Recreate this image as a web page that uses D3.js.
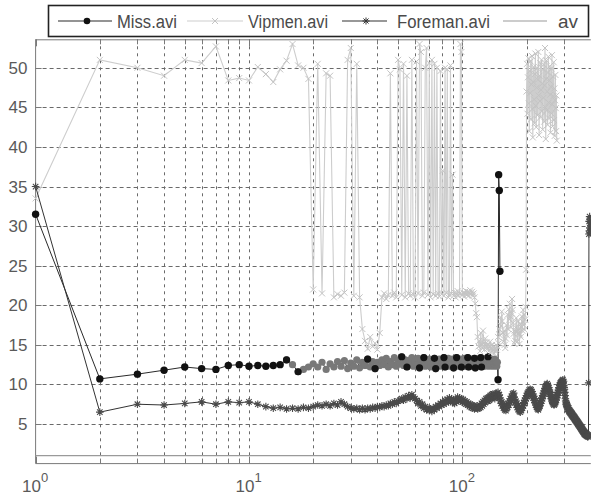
<!DOCTYPE html>
<html><head><meta charset="utf-8">
<script src="https://cdn.jsdelivr.net/npm/d3@7"></script>
<style>body{margin:0;background:#fff}svg{display:block}</style>
</head><body>
<svg id="c" width="591" height="499"></svg>
<script>
// ---------------- data ----------------
const seriesNames = ["Miss.avi", "Vipmen.avi", "Foreman.avi", "av"];
const missPSNR = [
31.5,10.7,11.3,11.8,12.2,12.0,11.9,12.4,12.5,12.3,
12.4,12.3,12.4,12.5,13.1,12.5,11.6,11.9,12.2,12.6,
12.2,12.8,11.9,12.6,12.2,12.9,12.3,13.0,12.0,12.7,
12.3,13.1,12.1,12.8,12.4,13.2,12.2,12.9,12.0,12.8,
12.4,13.1,12.5,13.3,12.2,12.9,12.5,13.4,12.3,13.0,
12.6,13.5,12.4,13.1,12.2,13.0,12.6,13.4,12.3,12.9,
12.5,13.3,12.1,13.0,12.6,13.4,12.3,12.9,12.5,13.2,
12.2,13.1,12.6,13.3,12.0,12.9,12.5,13.2,12.3,13.0,
12.6,13.4,12.2,12.9,12.5,13.3,12.3,13.0,12.6,13.2,
12.1,12.9,12.5,13.4,12.3,13.0,12.6,13.2,12.2,12.9,
12.5,13.3,12.3,13.0,12.6,13.4,12.2,12.9,12.5,13.2,
12.3,13.0,12.6,13.3,12.1,12.9,12.5,13.2,12.3,13.0,
12.6,13.4,12.2,12.9,12.5,13.2,12.3,13.0,12.6,13.3,
12.4,13.5,12.3,13.0,12.6,13.2,12.4,12.9,12.3,13.1,
12.6,13.2,12.4,12.9,12.3,12.8,10.6,36.5,34.5,24.3];
const vipmenPSNR = [
33.5,51.0,50.0,49.0,51.0,50.6,52.7,48.4,48.7,48.4,
50.1,49.2,48.2,49.8,50.9,53.0,50.3,50.0,48.6,22.0,
50.5,21.5,49.3,49.0,21.0,21.4,21.2,21.6,51.0,52.5,
21.2,50.5,21.0,17.0,15.5,14.5,16.0,14.8,15.2,14.4,
16.5,21.0,21.5,20.8,21.3,49.3,21.2,21.6,21.0,51.0,
49.8,21.3,50.5,21.0,49.0,21.5,21.2,51.0,21.4,21.0,
50.8,21.5,53.0,52.0,21.2,21.6,50.0,52.5,21.3,50.6,
21.0,51.0,21.4,50.5,21.2,50.0,21.5,21.1,49.6,21.4,
37.0,21.2,50.0,21.6,49.8,21.0,21.3,50.3,21.5,36.5,
21.2,21.6,21.0,21.4,21.8,21.2,21.5,53.0,52.0,21.3,
21.6,21.1,21.5,21.8,21.3,21.7,21.2,21.6,21.9,21.4,
21.7,21.2,21.5,21.0,20.2,19.0,18.5,16.0,14.8,15.5,
14.2,16.5,15.0,14.6,16.8,15.2,14.4,15.8,14.9,15.3,
14.5,15.0,14.2,14.8,15.4,14.6,14.1,15.0,14.3,14.7,
13.9,14.5,14.2,15.0,14.4,14.8,16.0,15.2,17.0,16.2,
18.5,17.4,19.2,18.0,16.5,15.4,16.8,15.0,14.6,15.8,
17.5,16.2,18.8,17.0,19.5,18.2,20.2,18.6,17.2,19.0,
20.8,19.4,17.8,16.4,15.2,16.8,15.5,17.2,18.4,16.6,
15.4,16.9,18.0,16.5,15.1,16.3,17.6,16.0,17.2,18.6,
16.8,17.9,19.4,17.5,18.8,16.9,18.2,19.8,24.5,47.0,
50.5,44.2,48.8,51.2,45.5,42.0,49.6,46.8,50.8,43.5,
47.9,51.5,44.8,41.2,48.2,50.1,46.0,43.0,49.2,51.8,
45.2,42.5,47.5,50.0,44.0,48.5,52.0,46.5,41.5,49.0,
45.8,50.6,43.8,47.2,51.0,44.5,48.0,42.2,49.8,46.2,
50.4,43.2,47.8,52.5,45.0,41.0,48.6,50.9,44.6,47.0,
42.8,49.4,51.4,45.6,43.6,48.4,50.2,46.6,41.8,47.6,
49.9,44.2,51.6,45.4,42.6,48.9,46.4,50.7,43.4,47.4,
41.4,45.9,49.1,44.9,42.0,46.5,40.8];
const foremanPSNR = [
35.0,6.5,7.5,7.4,7.6,7.8,7.5,7.8,7.7,7.8,
7.5,7.2,7.0,7.1,6.9,7.0,6.9,7.1,7.0,7.2,
7.4,7.3,7.5,7.3,7.6,7.4,7.8,7.5,7.2,7.0,
6.9,7.0,6.8,7.0,6.8,7.0,6.9,7.1,7.0,7.2,
7.1,7.3,7.2,7.4,7.3,7.6,7.5,7.8,7.6,7.9,
8.0,8.2,8.0,8.4,8.2,8.6,8.3,8.7,8.4,8.2,
8.0,7.6,7.8,7.3,7.5,7.0,7.2,6.8,7.0,6.7,
6.9,6.6,7.0,6.8,7.2,7.0,7.4,7.2,7.6,7.4,
7.8,7.5,8.0,7.7,8.1,7.8,8.3,7.9,8.2,7.7,
8.0,7.6,8.1,7.8,8.4,8.0,8.3,7.9,8.2,7.8,
8.1,7.7,7.9,7.5,7.8,7.4,7.6,7.2,7.5,7.1,
7.4,7.0,7.3,6.9,7.2,7.0,7.3,6.9,7.1,7.0,
7.4,7.1,7.6,7.3,7.8,7.5,8.0,7.7,8.2,7.9,
8.3,7.9,8.4,8.0,8.6,8.2,8.7,8.3,8.8,8.4,
8.6,8.2,8.8,8.4,8.9,8.5,9.0,8.6,8.7,8.3,
8.0,7.6,7.8,7.3,7.5,7.0,7.2,6.8,7.0,6.7,
6.9,7.3,7.1,7.6,7.4,7.9,7.7,8.2,8.0,8.5,
8.3,8.8,8.5,8.9,8.4,8.1,7.7,7.9,7.4,7.6,
7.1,7.3,6.8,7.0,6.6,6.8,6.5,6.9,6.7,7.1,
7.0,7.4,7.3,7.7,7.6,8.0,7.9,8.3,8.2,8.6,
8.5,8.9,8.7,9.1,8.9,9.3,9.0,9.4,9.1,9.3,
8.9,9.1,8.6,8.8,8.3,8.5,8.0,8.2,7.7,7.9,
7.4,7.6,7.1,7.3,6.9,7.1,6.8,7.0,7.2,7.4,
7.3,7.7,7.6,8.0,7.9,8.3,8.2,8.6,8.5,8.9,
8.8,9.2,9.1,9.5,9.4,9.8,9.6,10.0,9.8,10.1,
9.7,9.9,9.4,9.6,9.1,9.3,8.8,9.0,8.5,8.7,
8.2,8.4,7.9,8.1,7.7,7.9,7.5,7.7,7.4,7.6,
7.5,7.8,7.7,8.1,8.0,8.4,8.3,8.7,8.6,9.0,
8.9,9.3,9.2,9.6,9.5,9.9,9.8,10.2,10.0,10.3,
10.1,10.4,10.2,10.5,10.3,10.6,10.2,10.4,9.9,9.6,
9.4,9.0,8.6,8.2,7.9,7.5,7.7,7.3,7.5,7.1,
7.3,6.9,7.1,6.8,7.0,6.6,6.8,6.5,6.7,6.4,
6.6,6.3,6.5,6.2,6.4,6.1,6.3,6.0,6.2,5.9,
6.1,5.8,6.0,5.7,5.9,5.6,5.8,5.5,5.7,5.4,
5.6,5.3,5.5,5.2,5.4,5.1,5.3,5.0,5.2,4.9,
5.1,4.8,5.0,4.7,4.9,4.6,4.8,4.5,4.7,4.4,
4.6,4.3,4.5,4.2,4.4,4.1,4.3,4.0,4.2,3.9,
4.1,3.8,4.0,3.7,3.9,3.7,3.9,3.6,3.8,3.6,
3.8,3.5,3.7,3.5,3.7,3.4,3.6,3.4,3.6,3.5,
10.2,29.0,30.6,29.4,31.2,29.8,30.8,29.2,30.4,30.0];
const avFrames = [1, 400];
const avPSNR = [1.0, 1.0];
const yTickValues = [5, 10, 15, 20, 25, 30, 35, 40, 45, 50];
const xMajorTicks = [1, 10, 100];
const xMinorTicks = [2,3,4,5,6,7,8,9,20,30,40,50,60,70,80,90,200,300,400];
const xTickExponents = ["0", "1", "2"];

// ---------------- layout ----------------
const svg = d3.select("#c");
const x = d3.scaleLog().domain([1, 400]).range([35.6, 590.8]);
const y = d3.scaleLinear().domain([0, 53.6]).range([463.6, 39.3]);
const X0 = x.range()[0], X1 = x.range()[1], Y0 = y.range()[0], Y1 = y.range()[1];
const FONT = "'Liberation Sans', Arial, Helvetica, sans-serif";

const toPts = arr => arr.map((v, i) => ({f: i + 1, v}));
const miss = toPts(missPSNR), vip = toPts(vipmenPSNR), fore = toPts(foremanPSNR);
const av = avFrames.map((f, i) => ({f, v: avPSNR[i]}));

svg.append("rect").attr("width", 591).attr("height", 499).attr("fill", "#fff");

// grid
const grid = svg.append("g").attr("stroke", "#6a6a6a").attr("stroke-width", 1).attr("stroke-dasharray", "4,3");
grid.selectAll("line.h").data(yTickValues).join("line").attr("class", "h")
  .attr("x1", X0).attr("x2", X1).attr("y1", d => Math.round(y(d)) + 0.5).attr("y2", d => Math.round(y(d)) + 0.5);
grid.selectAll("line.v").data(xMajorTicks.slice(1).concat(xMinorTicks)).join("line").attr("class", "v")
  .attr("y1", Y1).attr("y2", Y0).attr("x1", d => Math.round(x(d)) + 0.5).attr("x2", d => Math.round(x(d)) + 0.5)
  .attr("stroke-dasharray", "3,4");

// frame
const frame = svg.append("g").attr("stroke", "#7a7a7a").attr("stroke-width", 1).attr("fill", "none");
frame.append("line").attr("x1", X0).attr("x2", X0).attr("y1", Y1).attr("y2", Y0);
frame.append("line").attr("x1", X0).attr("x2", X1).attr("y1", Y1 + 0.5).attr("y2", Y1 + 0.5);
frame.append("line").attr("x1", X0).attr("x2", X1).attr("y1", Y0).attr("y2", Y0);
// ticks
const tk = svg.append("g").attr("stroke", "#7a7a7a").attr("stroke-width", 1);
xMinorTicks.concat(xMajorTicks).forEach(d => {
  const len = xMajorTicks.includes(d) ? 7 : 5;
  const xx = Math.round(x(d)) + 0.5;
  tk.append("line").attr("x1", xx).attr("x2", xx).attr("y1", Y0).attr("y2", Y0 - len);
  tk.append("line").attr("x1", xx).attr("x2", xx).attr("y1", Y1).attr("y2", Y1 + len);
});
yTickValues.forEach(d => {
  const yy = Math.round(y(d)) + 0.5;
  tk.append("line").attr("x1", X0).attr("x2", X0 + 6).attr("y1", yy).attr("y2", yy);
});

// tick labels
svg.append("g").selectAll("text").data(yTickValues).join("text")
  .attr("x", 27.5).attr("y", d => y(d) + 6).attr("text-anchor", "end")
  .attr("font-family", FONT).attr("font-size", 17).attr("fill", "#5a5a5a").text(d => d);
xMajorTicks.forEach((d, i) => {
  const xx = x(d);
  svg.append("text").attr("x", xx - 13.5).attr("y", 492).attr("font-family", FONT)
    .attr("font-size", 17).attr("fill", "#5a5a5a").text("10");
  svg.append("text").attr("x", xx + 5.5).attr("y", 481.5).attr("font-family", FONT)
    .attr("font-size", 13).attr("fill", "#5a5a5a").text(xTickExponents[i]);
});

// series
const line = d3.line().x(d => x(d.f)).y(d => y(d.v));
const starPath = (cx, cy, r) => {
  const k = r * 0.72;
  return `M${cx - r},${cy}H${cx + r}M${cx},${cy - r}V${cy + r}M${cx - k},${cy - k}L${cx + k},${cy + k}M${cx - k},${cy + k}L${cx + k},${cy - k}`;
};
const crossPath = (cx, cy, r) => `M${cx - r},${cy - r}L${cx + r},${cy + r}M${cx - r},${cy + r}L${cx + r},${cy - r}`;

// Miss: dense overlapping markers render grey in the print, local extremes stay black
const isEdge = (arr, i) => {
  const lo = Math.max(0, i - 7);
  const w = arr.slice(lo, i + 8).map(d => d.v);
  return d3.maxIndex(w) === i - lo || d3.minIndex(w) === i - lo;
};
svg.append("path").datum(miss).attr("d", line).attr("fill", "none").attr("stroke", "#2a2a2a").attr("stroke-width", 1);
const missDense = miss.filter(d => d.f >= 15 && d.f <= 146);
const missSparse = miss.filter(d => d.f < 15 || d.f > 146);
svg.append("g").selectAll("circle").data(missDense).join("circle")
  .attr("cx", d => x(d.f)).attr("cy", d => y(d.v)).attr("r", 3.6).attr("fill", "#787878");
svg.append("g").selectAll("circle").data(missDense.filter(d => isEdge(miss, d.f - 1))).join("circle")
  .attr("cx", d => x(d.f)).attr("cy", d => y(d.v)).attr("r", 3.6).attr("fill", "#151515");
svg.append("g").selectAll("circle").data(missSparse).join("circle")
  .attr("cx", d => x(d.f)).attr("cy", d => y(d.v)).attr("r", 3.7).attr("fill", "#111");
// Vipmen
svg.append("path").datum(vip).attr("d", line).attr("fill", "none").attr("stroke", "#cdcdcd").attr("stroke-width", 1.1);
svg.append("g").selectAll("path").data(vip).join("path")
  .attr("d", d => crossPath(x(d.f), y(d.v), 3)).attr("stroke", "#c4c4c4").attr("stroke-width", 1).attr("fill", "none");
// Foreman
svg.append("path").datum(fore).attr("d", line).attr("fill", "none").attr("stroke", "#333").attr("stroke-width", 1);
svg.append("g").selectAll("path").data(fore).join("path")
  .attr("d", d => starPath(x(d.f), y(d.v), 3.8)).attr("stroke", "#4a4a4a").attr("stroke-width", 1.1).attr("fill", "none");
// av
svg.append("path").datum(av).attr("d", line).attr("fill", "none").attr("stroke", "#9a9a9a").attr("stroke-width", 1.2);

// legend
const lg = svg.append("g");
lg.append("rect").attr("x", 48.5).attr("y", 5.5).attr("width", 540).attr("height", 31)
  .attr("fill", "#fff").attr("stroke", "#222").attr("stroke-width", 1.6);
const legendItems = [
  {name: seriesNames[0], x1: 58, x2: 112, mk: 87, tx: 117, tw: 60, col: "#2a2a2a", type: "circle"},
  {name: seriesNames[1], x1: 187, x2: 243, mk: 215, tx: 248, tw: 80, col: "#cdcdcd", type: "cross"},
  {name: seriesNames[2], x1: 342, x2: 387, mk: 366, tx: 397, tw: 93, col: "#333", type: "star"},
  {name: seriesNames[3], x1: 503, x2: 547, mk: null, tx: 558, tw: 20, col: "#9a9a9a", type: "none"}
];
const LY = 21;
legendItems.forEach(it => {
  lg.append("line").attr("x1", it.x1).attr("x2", it.x2).attr("y1", LY).attr("y2", LY)
    .attr("stroke", it.col).attr("stroke-width", 1.2);
  if (it.type === "circle") lg.append("circle").attr("cx", it.mk).attr("cy", LY).attr("r", 3.3).attr("fill", "#111");
  if (it.type === "cross") lg.append("path").attr("d", crossPath(it.mk, LY, 3)).attr("stroke", "#c4c4c4").attr("fill", "none");
  if (it.type === "star") lg.append("path").attr("d", starPath(it.mk, LY, 3.5)).attr("stroke", "#333").attr("fill", "none");
  lg.append("text").attr("x", it.tx).attr("y", 28.3).attr("font-family", FONT).attr("font-size", 18)
    .attr("fill", "#4a4a4a").attr("textLength", it.tw).attr("lengthAdjust", "spacingAndGlyphs").text(it.name);
});
</script>
</body></html>
